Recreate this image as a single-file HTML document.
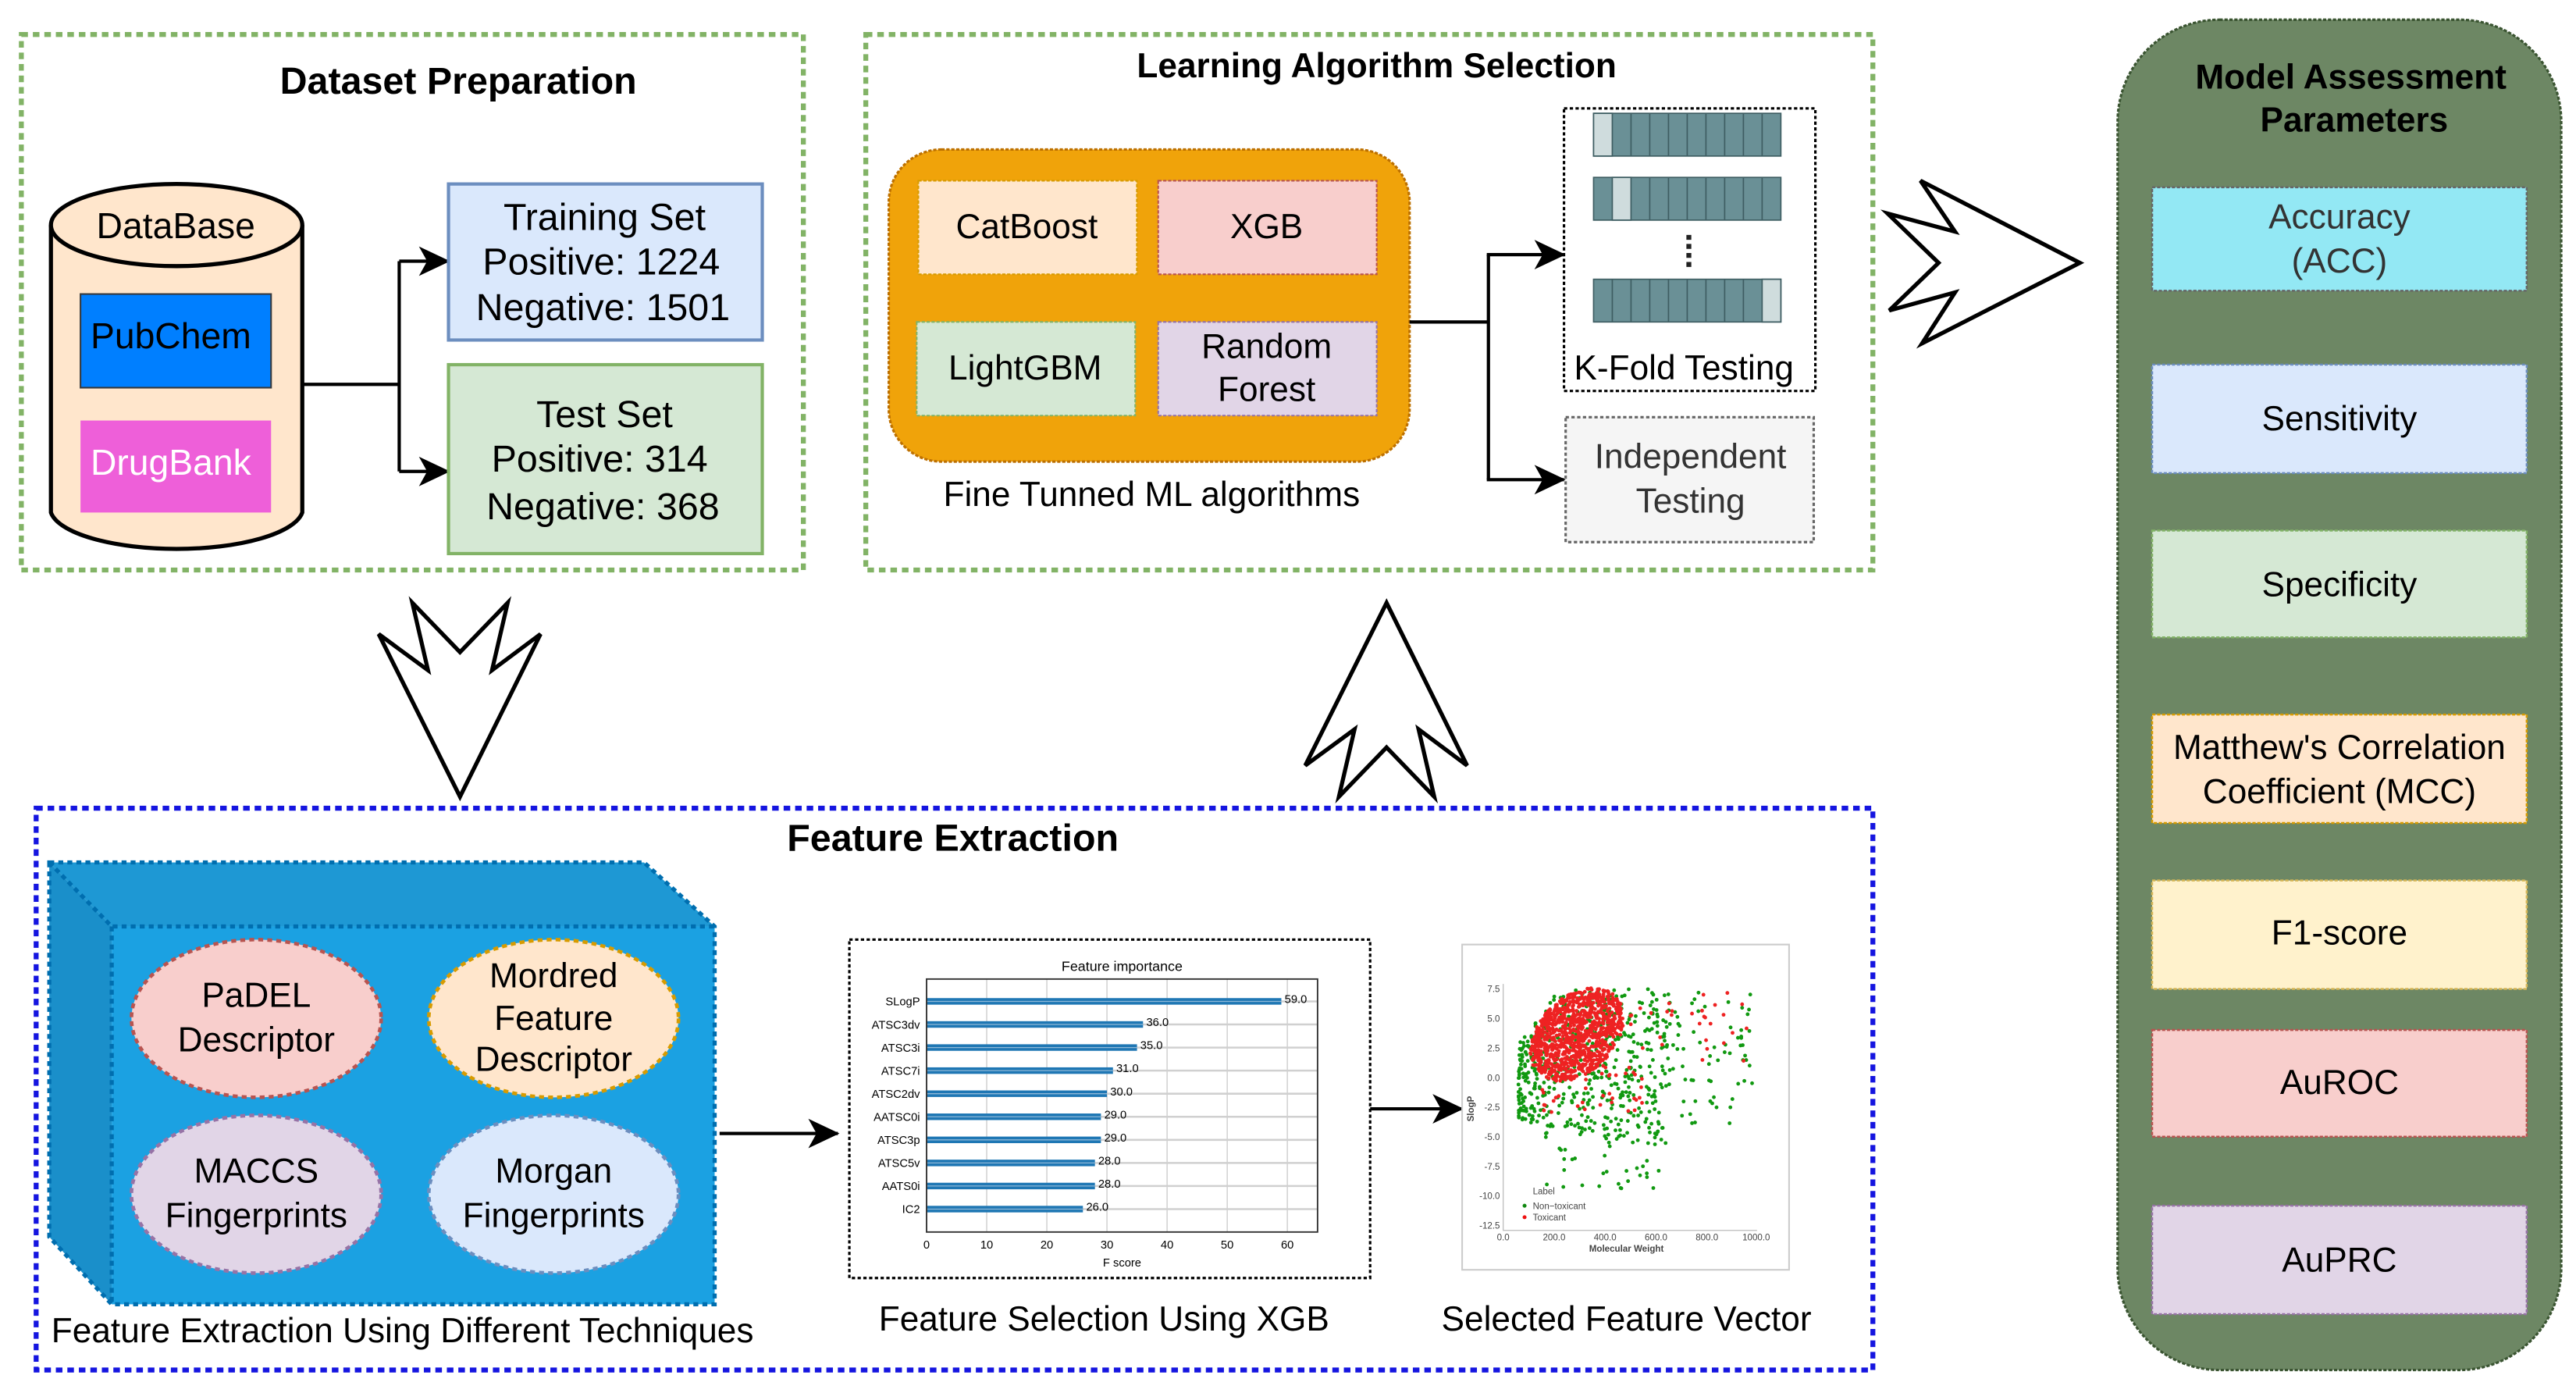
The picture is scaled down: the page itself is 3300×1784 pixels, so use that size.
<!DOCTYPE html>
<html><head><meta charset="utf-8"><style>
html,body{margin:0;padding:0;background:#fff;}
svg{display:block;}
text{font-family:"Liberation Sans",Arial,sans-serif;}
</style></head><body>
<svg id="s" width="3300" height="1784" viewBox="0 0 1568 848" preserveAspectRatio="none" xmlns="http://www.w3.org/2000/svg">
<rect x="0" y="0" width="1568" height="848" fill="#fff"/>
<defs>
<marker id="ah2" markerWidth="20" markerHeight="20" refX="18" refY="10" orient="auto" markerUnits="userSpaceOnUse"><path d="M0,1 L19,10 L0,19 L5,10 Z" fill="#000"/></marker>
</defs>

<!-- Dataset Preparation -->
<rect x="13" y="21" width="476" height="326" fill="none" stroke="#82b366" stroke-width="3" stroke-dasharray="4 3"/>
<text x="279" y="57" font-size="23" font-weight="bold" text-anchor="middle">Dataset Preparation</text>
<path d="M31,137 L31,312 A77,25 0 0 0 184,312 L184,137" fill="#ffe6cc" stroke="#000" stroke-width="2.5"/>
<ellipse cx="107.5" cy="137" rx="76.5" ry="25" fill="#ffe6cc" stroke="#000" stroke-width="2.5"/>
<text x="107" y="145" font-size="22" text-anchor="middle">DataBase</text>
<rect x="49" y="179" width="116" height="57" fill="#007fff" stroke="#36393d" stroke-width="1"/>
<text x="104" y="212" font-size="22" text-anchor="middle">PubChem</text>
<rect x="49" y="256" width="116" height="56" fill="#ee5fd9"/>
<text x="104" y="289" font-size="22" text-anchor="middle" fill="#fff">DrugBank</text>
<path d="M184,234 H243 M243,159 V287" stroke="#000" stroke-width="2" fill="none"/>
<line x1="243" y1="159" x2="273" y2="159" stroke="#000" stroke-width="2" marker-end="url(#ah2)"/>
<line x1="243" y1="287" x2="273" y2="287" stroke="#000" stroke-width="2" marker-end="url(#ah2)"/>
<rect x="273" y="112" width="191" height="95" fill="#dae8fc" stroke="#6c8ebf" stroke-width="2"/>
<text x="368" y="140" font-size="23" text-anchor="middle">Training Set</text>
<text x="366" y="167" font-size="23" text-anchor="middle">Positive: 1224</text>
<text x="367" y="195" font-size="23" text-anchor="middle">Negative: 1501</text>
<rect x="273" y="222" width="191" height="115" fill="#d5e8d4" stroke="#82b366" stroke-width="2"/>
<text x="368" y="260" font-size="23" text-anchor="middle">Test Set</text>
<text x="365" y="287" font-size="23" text-anchor="middle">Positive: 314</text>
<text x="367" y="316" font-size="23" text-anchor="middle">Negative: 368</text>

<!-- Learning Algorithm Selection -->
<rect x="527" y="21" width="613" height="326" fill="none" stroke="#82b366" stroke-width="3" stroke-dasharray="4 3"/>
<text x="838" y="47" font-size="21" font-weight="bold" text-anchor="middle">Learning Algorithm Selection</text>
<rect x="541" y="91" width="317" height="190" rx="32" fill="#f0a30a" stroke="#bd7000" stroke-width="1.5" stroke-dasharray="2 1"/>
<rect x="559" y="110" width="133" height="57" fill="#ffe6cc" stroke="#d79b00" stroke-width="1" stroke-dasharray="2 1"/>
<text x="625" y="145" font-size="21" text-anchor="middle">CatBoost</text>
<rect x="705" y="110" width="133" height="57" fill="#f8cecc" stroke="#b85450" stroke-width="1" stroke-dasharray="2 1"/>
<text x="771" y="145" font-size="21" text-anchor="middle">XGB</text>
<rect x="558" y="196" width="133" height="57" fill="#d5e8d4" stroke="#82b366" stroke-width="1" stroke-dasharray="2 1"/>
<text x="624" y="231" font-size="21" text-anchor="middle">LightGBM</text>
<rect x="705" y="196" width="133" height="57" fill="#e1d5e7" stroke="#9673a6" stroke-width="1" stroke-dasharray="2 1"/>
<text x="771" y="218" font-size="21" text-anchor="middle">Random</text>
<text x="771" y="244" font-size="21" text-anchor="middle">Forest</text>
<text x="701" y="308" font-size="21" text-anchor="middle">Fine Tunned ML algorithms</text>
<path d="M858,196 H906 M906,155 V292" stroke="#000" stroke-width="2" fill="none"/>
<line x1="905" y1="155" x2="952" y2="155" stroke="#000" stroke-width="2" marker-end="url(#ah2)"/>
<line x1="905" y1="292" x2="952" y2="292" stroke="#000" stroke-width="2" marker-end="url(#ah2)"/>
<rect x="952" y="66" width="153" height="172" fill="#fff" stroke="#000" stroke-width="1.5" stroke-dasharray="2 1.5"/>
<g stroke="#3e5d62" stroke-width="0.8">
<rect x="970" y="69" width="114" height="26" fill="#6a9096"/>
<rect x="970" y="69" width="11.4" height="26" fill="#cfdcdd"/>
<rect x="970" y="108" width="114" height="26" fill="#6a9096"/>
<rect x="981.4" y="108" width="11.4" height="26" fill="#cfdcdd"/>
<rect x="970" y="170" width="114" height="26" fill="#6a9096"/>
<rect x="1072.6" y="170" width="11.4" height="26" fill="#cfdcdd"/>
<path d="M992.8,69v26M1004.2,69v26M1015.6,69v26M1027,69v26M1038.4,69v26M1049.8,69v26M1061.2,69v26M1072.6,69v26
M1004.2,108v26M1015.6,108v26M1027,108v26M1038.4,108v26M1049.8,108v26M1061.2,108v26M1072.6,108v26
M981.4,170v26M992.8,170v26M1004.2,170v26M1015.6,170v26M1027,170v26M1038.4,170v26M1049.8,170v26M1061.2,170v26" fill="none"/>
</g>
<line x1="1028" y1="143" x2="1028" y2="163" stroke="#222" stroke-width="3" stroke-dasharray="3 2.5"/>
<text x="1025" y="231" font-size="21" text-anchor="middle">K-Fold Testing</text>
<rect x="953" y="254" width="151" height="76" fill="#f5f5f5" stroke="#666" stroke-width="1.5" stroke-dasharray="2 1.5"/>
<text x="1029" y="285" font-size="21" text-anchor="middle" fill="#333">Independent</text>
<text x="1029" y="312" font-size="21" text-anchor="middle" fill="#333">Testing</text>

<!-- Hollow arrows -->
<polygon points="230.5,386 260.5,408 251,367 280,397 309,367 299.5,408 329,386 280,485" fill="#fff" stroke="#000" stroke-width="2.5"/>
<polygon points="794.5,466 824.5,444 815,485 844,455 873,485 863.5,444 893,466 844,367" fill="#fff" stroke="#000" stroke-width="2.5"/>
<polygon points="1169,110 1190,141 1149,130 1180,160 1150,189 1190,178 1170,209 1266,160" fill="#fff" stroke="#000" stroke-width="2.5"/>

<!-- Feature Extraction -->
<rect x="22" y="492" width="1118" height="342" fill="none" stroke="#1515e0" stroke-width="3" stroke-dasharray="4 3"/>
<text x="580" y="518" font-size="23" font-weight="bold" text-anchor="middle">Feature Extraction</text>
<polygon points="30,525 392,525 435,564 68,564" fill="#1e98d4"/>
<polygon points="30,525 68,564 68,794 30,753" fill="#1a8fca"/>
<rect x="68" y="564" width="367" height="230" fill="#1ba1e2"/>
<g fill="none" stroke="#006eaf" stroke-width="2.5" stroke-dasharray="3 2.5">
<polygon points="30,525 392,525 435,564 435,794 68,794 30,753"/>
<path d="M30,525 L68,564 L435,564 M68,564 V794"/>
</g>
<g stroke-width="2.2" stroke-dasharray="3 2.5">
<ellipse cx="156" cy="620" rx="76" ry="48" fill="#f8cecc" stroke="#b85450"/>
<ellipse cx="337" cy="620" rx="76" ry="48" fill="#ffe6cc" stroke="#d79b00"/>
<ellipse cx="156" cy="727" rx="76" ry="48" fill="#e1d5e7" stroke="#9673a6"/>
<ellipse cx="337" cy="727" rx="76" ry="48" fill="#dae8fc" stroke="#6c8ebf"/>
</g>
<g font-size="21" text-anchor="middle">
<text x="156" y="613">PaDEL</text><text x="156" y="640">Descriptor</text>
<text x="337" y="601">Mordred</text><text x="337" y="627">Feature</text><text x="337" y="652">Descriptor</text>
<text x="156" y="720">MACCS</text><text x="156" y="747">Fingerprints</text>
<text x="337" y="720">Morgan</text><text x="337" y="747">Fingerprints</text>
</g>
<text x="245" y="817" font-size="21" text-anchor="middle">Feature Extraction Using Different Techniques</text>
<line x1="438" y1="690" x2="510" y2="690" stroke="#000" stroke-width="2" marker-end="url(#ah2)"/>

<!-- Feature importance chart -->
<rect x="517" y="572" width="317" height="206" fill="#fff" stroke="#000" stroke-width="1.5" stroke-dasharray="2 1.5"/>
<text x="683" y="591" font-size="8.5" text-anchor="middle">Feature importance</text>
<g stroke="#c8c8c8" stroke-width="0.6">
<path d="M600.6,596V750M637.2,596V750M673.8,596V750M710.4,596V750M747,596V750M783.6,596V750"/>
</g>
<g id="bars"></g>
<rect x="564" y="596" width="238" height="154" fill="none" stroke="#333" stroke-width="0.9"/>
<g font-size="7" text-anchor="middle">
<text x="564" y="760">0</text><text x="600.6" y="760">10</text><text x="637.2" y="760">20</text><text x="673.8" y="760">30</text><text x="710.4" y="760">40</text><text x="747" y="760">50</text><text x="783.6" y="760">60</text>
<text x="683" y="771">F score</text>
</g>
<g id="fi" font-size="7"></g>
<line x1="834" y1="675" x2="890" y2="675" stroke="#000" stroke-width="2" marker-end="url(#ah2)"/>

<!-- Scatter -->
<rect x="890" y="575" width="199" height="198" fill="#fff" stroke="#ccc" stroke-width="1"/>
<g id="dots"></g>
<path d="M915,599 V749 H1069.5" fill="none" stroke="#bbb" stroke-width="0.6"/>
<g font-size="5.5" text-anchor="end" fill="#444">
<text x="913" y="604">7.5</text><text x="913" y="622">5.0</text><text x="913" y="640">2.5</text><text x="913" y="658">0.0</text><text x="913" y="676">-2.5</text><text x="913" y="694">-5.0</text><text x="913" y="712">-7.5</text><text x="913" y="730">-10.0</text><text x="913" y="748">-12.5</text>
</g>
<g font-size="5.5" text-anchor="middle" fill="#444">
<text x="915" y="755">0.0</text><text x="946" y="755">200.0</text><text x="977" y="755">400.0</text><text x="1008" y="755">600.0</text><text x="1039" y="755">800.0</text><text x="1069" y="755">1000.0</text>
<text x="990" y="762" font-weight="bold">Molecular Weight</text>
</g>
<text x="0" y="0" font-size="5.5" font-weight="bold" fill="#444" transform="translate(897,675) rotate(-90)" text-anchor="middle">SlogP</text>
<g font-size="5.5" fill="#444">
<text x="933" y="727">Label</text>
<circle cx="928" cy="734" r="1.2" fill="#118811"/><text x="933" y="736">Non−toxicant</text>
<circle cx="928" cy="741" r="1.2" fill="#ee1111"/><text x="933" y="743">Toxicant</text>
</g>
<text x="672" y="810" font-size="21" text-anchor="middle">Feature Selection Using XGB</text>
<text x="990" y="810" font-size="21" text-anchor="middle">Selected Feature Vector</text>

<!-- Model Assessment -->
<rect x="1289" y="12" width="270" height="822" rx="62" fill="#6d8764" stroke="#3a5431" stroke-width="1.5" stroke-dasharray="2 1"/>
<text x="1431" y="54" font-size="21" font-weight="bold" text-anchor="middle">Model Assessment</text>
<text x="1433" y="80" font-size="21" font-weight="bold" text-anchor="middle">Parameters</text>
<g stroke-width="1.2" stroke-dasharray="2 1">
<rect x="1310" y="114" width="228" height="63" fill="#93e8f4" stroke="#666"/>
<rect x="1310" y="222" width="228" height="66" fill="#dae8fc" stroke="#6c8ebf"/>
<rect x="1310" y="323" width="228" height="65" fill="#d5e8d4" stroke="#82b366"/>
<rect x="1310" y="435" width="228" height="66" fill="#ffe6cc" stroke="#d79b00"/>
<rect x="1310" y="536" width="228" height="66" fill="#fff2cc" stroke="#d6b656"/>
<rect x="1310" y="627" width="228" height="65" fill="#f8cecc" stroke="#b85450"/>
<rect x="1310" y="734" width="228" height="66" fill="#e1d5e7" stroke="#9673a6"/>
</g>
<g font-size="21" text-anchor="middle">
<text x="1424" y="139" fill="#333">Accuracy</text><text x="1424" y="166" fill="#333">(ACC)</text>
<text x="1424" y="262">Sensitivity</text>
<text x="1424" y="363">Specificity</text>
<text x="1424" y="462">Matthew's Correlation</text><text x="1424" y="489">Coefficient (MCC)</text>
<text x="1424" y="575">F1-score</text>
<text x="1424" y="666">AuROC</text>
<text x="1424" y="774">AuPRC</text>
</g>
</svg>
<script>
(function(){
var NS="http://www.w3.org/2000/svg";
function el(t,a,p){var e=document.createElementNS(NS,t);for(var k in a)e.setAttribute(k,a[k]);p.appendChild(e);return e;}
var names=["SLogP","ATSC3dv","ATSC3i","ATSC7i","ATSC2dv","AATSC0i","ATSC3p","ATSC5v","AATS0i","IC2"];
var vals=[59,36,35,31,30,29,29,28,28,26];
var bars=document.getElementById("bars"),fi=document.getElementById("fi");
for(var i=0;i<10;i++){var y=609.6+i*14.05;
el("line",{x1:564,y1:y,x2:802,y2:y,stroke:"#d0d0d0","stroke-width":1.2},bars);
el("rect",{x:564,y:y-2,width:vals[i]*3.66,height:4,fill:"#1f77b4"},bars);
el("line",{x1:564,y1:y,x2:564+vals[i]*3.66,y2:y,stroke:"#8fb8d8","stroke-width":0.6},bars);
var t=el("text",{x:560,y:y+2.5,"text-anchor":"end"},fi);t.textContent=names[i];
var v=el("text",{x:566+vals[i]*3.66,y:y+1},fi);v.textContent=vals[i].toFixed(1);}
var s=12345;function r(){s=(s*1103515245+12345)%2147483648;return s/2147483648;}
var d=document.getElementById("dots");
function px(mw){return 915+mw*0.1545;}function py(v){return 602+(7.5-v)*7.15;}
function dot(mw,v,c){if(mw<20||mw>1000||v>7.7||v<-12)return;el("circle",{cx:px(mw),cy:py(v),r:1.15,fill:c},d);}
/* green */
for(var i=0;i<500;i++){var mw=60+Math.pow(r(),1.4)*600;var lo=-3.5-mw*0.004,hi=Math.min(7.5,1+mw*0.03);var v=lo+r()*(hi-lo);dot(mw,v,"#119911");}
for(var i=0;i<80;i++){dot(450+r()*540,-1+r()*8.5,"#119911");}
for(var i=0;i<45;i++){dot(150+r()*500,-9.5+r()*6,"#119911");}
for(var i=0;i<15;i++){dot(700+r()*300,-4+r()*4,"#119911");}
/* red: tilted ellipse */
for(var i=0;i<1300;i++){var u=r()*2-1,w=r()*2-1;if(u*u+w*w>1)continue;var mw=290+180*u-40*w;var v=3.6+2.2*u+3.3*w;dot(mw,v,"#ee2222");}
for(var i=0;i<40;i++){dot(150+r()*400,-3+r()*4,"#ee2222");}
for(var i=0;i<30;i++){dot(500+r()*480,1+r()*6.5,"#ee2222");}
})();
</script>
</body></html>
